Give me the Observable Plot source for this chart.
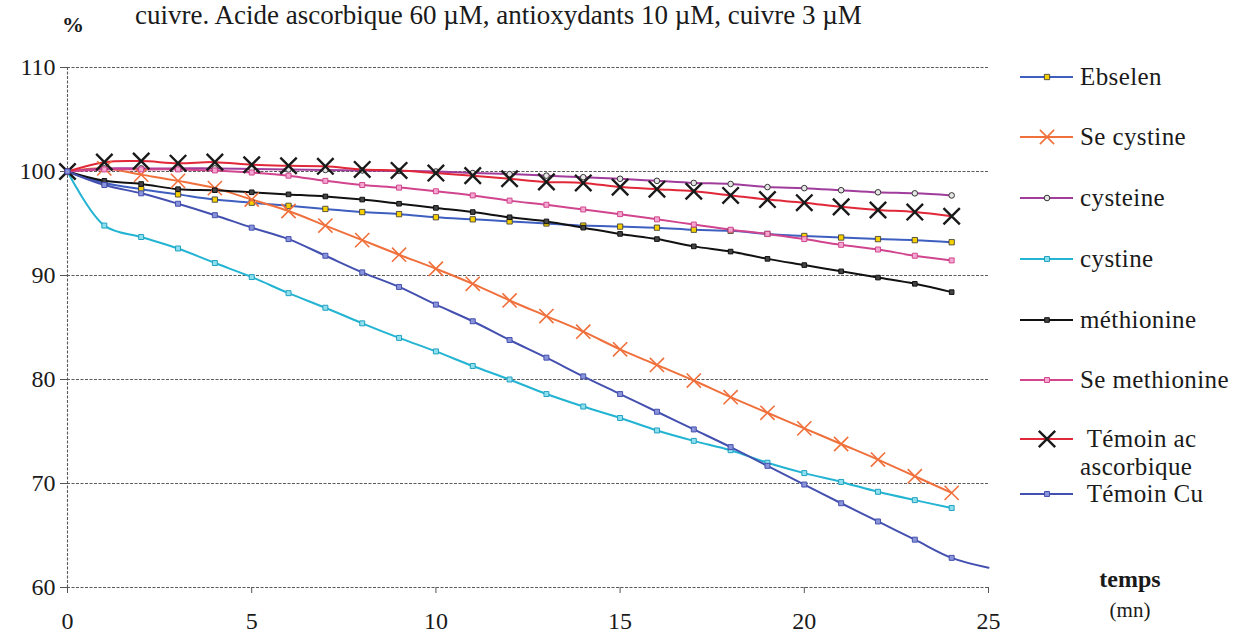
<!DOCTYPE html>
<html><head><meta charset="utf-8">
<script src="https://cdn.jsdelivr.net/npm/d3@7"></script>
<script src="https://cdn.jsdelivr.net/npm/@observablehq/plot@0.6"></script>
<style>
body{margin:0;background:#fff;}
#wrap{position:relative;width:1238px;height:638px;overflow:hidden;font-family:"Liberation Serif","Times New Roman",serif;color:#1a1a1a;background:#fff;}
#chart{position:absolute;left:0;top:0;}
#chart svg text{font-family:"Liberation Serif","Times New Roman",serif;}
#title{position:absolute;left:135px;top:0px;font-size:27px;white-space:nowrap;line-height:30px;}
#pct{position:absolute;left:62px;top:12px;font-size:22px;font-weight:bold;}
.row{position:absolute;display:flex;align-items:center;font-size:25px;letter-spacing:0.4px;white-space:nowrap;transform:translateY(-50%);line-height:28px;}
.row svg{margin-right:6px;flex:none;}
#temps{position:absolute;left:1130px;top:566px;font-size:24px;font-weight:bold;transform:translateX(-50%);}
#mn{position:absolute;left:1130px;top:598px;font-size:21px;transform:translateX(-50%);}
</style>
</head><body>
<div id="wrap">
  <div id="chart"></div>
  <div id="title">cuivre. Acide ascorbique 60 µM, antioxydants 10 µM, cuivre 3 µM</div>
  <div id="pct">%</div>
  <div id="legend"></div>
  <div id="temps">temps</div>
  <div id="mn">(mn)</div>
</div>
<script>
// ---- data ----
const minutes = [0,1,2,3,4,5,6,7,8,9,10,11,12,13,14,15,16,17,18,19,20,21,22,23,24,25];
const seriesNames = ["Ebselen","Se cystine","cysteine","cystine","méthionine","Se methionine","Témoin ac ascorbique","Témoin Cu"];
const ebselen      = [100,98.9,98.3,97.8,97.3,97.0,96.7,96.4,96.1,95.9,95.6,95.4,95.2,95.0,94.8,94.7,94.6,94.4,94.3,94.0,93.8,93.65,93.5,93.4,93.2];
const seCystine    = [100,100.3,99.7,99.1,98.4,97.3,96.2,94.8,93.4,92.0,90.65,89.2,87.6,86.1,84.6,82.9,81.4,79.9,78.3,76.8,75.3,73.8,72.3,70.7,69.1];
const cysteine     = [100,100.3,100.3,100.3,100.3,100.25,100.2,100.15,100.1,100.05,100.0,99.85,99.75,99.6,99.45,99.3,99.1,98.9,98.8,98.5,98.4,98.2,98.0,97.9,97.7];
const cystine      = [100,94.8,93.7,92.6,91.2,89.85,88.3,86.9,85.4,84.0,82.7,81.3,80.0,78.6,77.4,76.3,75.1,74.1,73.2,72.0,71.0,70.15,69.2,68.4,67.65];
const methionine   = [100,99.1,98.8,98.3,98.2,98.0,97.8,97.6,97.3,96.9,96.5,96.1,95.6,95.2,94.6,94.0,93.5,92.8,92.3,91.6,91.0,90.4,89.8,89.2,88.4];
const seMethionine = [100,100.2,100.2,100.2,100.1,99.9,99.6,99.1,98.7,98.45,98.1,97.7,97.2,96.8,96.35,95.9,95.4,94.9,94.4,94.0,93.5,92.95,92.5,91.9,91.45];
const temoinAsc    = [100,100.9,101.0,100.8,100.9,100.65,100.55,100.5,100.2,100.1,99.85,99.6,99.3,99.0,98.9,98.5,98.3,98.1,97.7,97.3,97.0,96.6,96.3,96.1,95.7];
const temoinCu     = [100,98.7,97.9,96.9,95.8,94.6,93.5,91.9,90.3,88.9,87.2,85.6,83.8,82.1,80.3,78.6,76.9,75.2,73.5,71.7,69.9,68.1,66.35,64.6,62.85,61.9];
const xTicks = [0,5,10,15,20,25];
const yTicks = [60,70,80,90,100,110];
const legendLines = [["Ebselen"],["Se cystine"],["cysteine"],["cystine"],["méthionine"],["Se methionine"],["\u00a0Témoin ac","ascorbique"],["\u00a0Témoin Cu"]];

// ---- styles ----
const lineColors = ["#3f5fc0","#f0703c","#a03c9c","#22b4d2","#111111","#d0458e","#e02838","#4450b0"];
const markerStyle = [
  {symbol:"square", r:3, fill:"#f6d000", stroke:"#333", sw:0.8},
  {symbol:"times",  r:6.5, fill:"none", stroke:"#f0703c", sw:1.6},
  {symbol:"circle", r:2.8, fill:"#e6e6e6", stroke:"#333", sw:1},
  {symbol:"square", r:2.8, fill:"#8fe0ee", stroke:"#22a0c0", sw:1},
  {symbol:"square", r:2.6, fill:"#444", stroke:"#111", sw:1},
  {symbol:"square", r:2.8, fill:"#f4a8d0", stroke:"#d0458e", sw:1},
  {symbol:"times",  r:7.5, fill:"none", stroke:"#1a1a1a", sw:2.4},
  {symbol:"square", r:2.8, fill:"#8a94d8", stroke:"#4450b0", sw:1}
];
const allValues = [ebselen,seCystine,cysteine,cystine,methionine,seMethionine,temoinAsc,temoinCu];
const rows = allValues.flatMap((vals, i) => vals.map((v, k) => ({series: seriesNames[i], idx: i, t: minutes[k], v})));

const marks = [
  Plot.gridY(yTicks, {stroke:"#5a5a5a", strokeOpacity:1, strokeWidth:1.1, strokeDasharray:"3,1.5"}),
  Plot.ruleX([0], {stroke:"#5a5a5a", strokeWidth:1.1, strokeDasharray:"3,1.5"}),
  Plot.axisY({ticks: yTicks, tickSize: 7, tickPadding: 5, label: null, stroke:"#555", fontSize: 24}),
  Plot.axisX({ticks: xTicks, tickSize: 6, tickPadding: 18, label: null, stroke:"#555", fontSize: 24})
];
seriesNames.forEach((name, i) => {
  const d = rows.filter(r => r.idx === i);
  marks.push(Plot.line(d, {x:"t", y:"v", stroke: lineColors[i], strokeWidth: 2, curve:"catmull-rom"}));
});
seriesNames.forEach((name, i) => {
  const d = rows.filter(r => r.idx === i && r.t <= 24);
  const m = markerStyle[i];
  marks.push(Plot.dot(d, {x:"t", y:"v", symbol: m.symbol, r: m.r, fill: m.fill, stroke: m.stroke, strokeWidth: m.sw}));
});

const chart = Plot.plot({
  width: 1238, height: 638,
  marginLeft: 67, marginRight: 250, marginTop: 67, marginBottom: 51,
  style: {fontFamily: "Liberation Serif, Times New Roman, serif", fontSize: "24px", color: "#1a1a1a", background: "transparent", overflow: "visible"},
  x: {domain: [0, 25]},
  y: {domain: [60, 110]},
  marks
});
document.getElementById("chart").appendChild(chart);

// ---- legend ----
const legendY = [77, 137, 198, 259, 320, 380, 439, 494];
const legend = document.getElementById("legend");
const symTypes = {square: d3.symbolSquare, circle: d3.symbolCircle, times: d3.symbolTimes};
seriesNames.forEach((name, i) => {
  const row = document.createElement("div");
  row.className = "row";
  row.style.left = "1020px";
  row.style.top = legendY[i] + "px";
  const m = markerStyle[i];
  const svg = d3.create("svg").attr("width", 54).attr("height", 20);
  svg.append("line").attr("x1", 0).attr("x2", 53).attr("y1", 10).attr("y2", 10).attr("stroke", lineColors[i]).attr("stroke-width", 2);
  svg.append("path").attr("transform", "translate(27,10)")
    .attr("d", d3.symbol(symTypes[m.symbol], Math.PI * m.r * m.r)())
    .attr("fill", m.fill).attr("stroke", m.stroke).attr("stroke-width", m.sw);
  row.appendChild(svg.node());
  const label = document.createElement("span");
  label.textContent = legendLines[i][0];
  row.appendChild(label);
  legend.appendChild(row);
  // continuation lines of a wrapped legend label
  legendLines[i].slice(1).forEach((s, j) => {
    const cont = document.createElement("div");
    cont.className = "row";
    cont.style.left = (1020 + 60) + "px";
    cont.style.top = (legendY[i] + 28 * (j + 1)) + "px";
    cont.textContent = s;
    legend.appendChild(cont);
  });
});
</script>
</body></html>
